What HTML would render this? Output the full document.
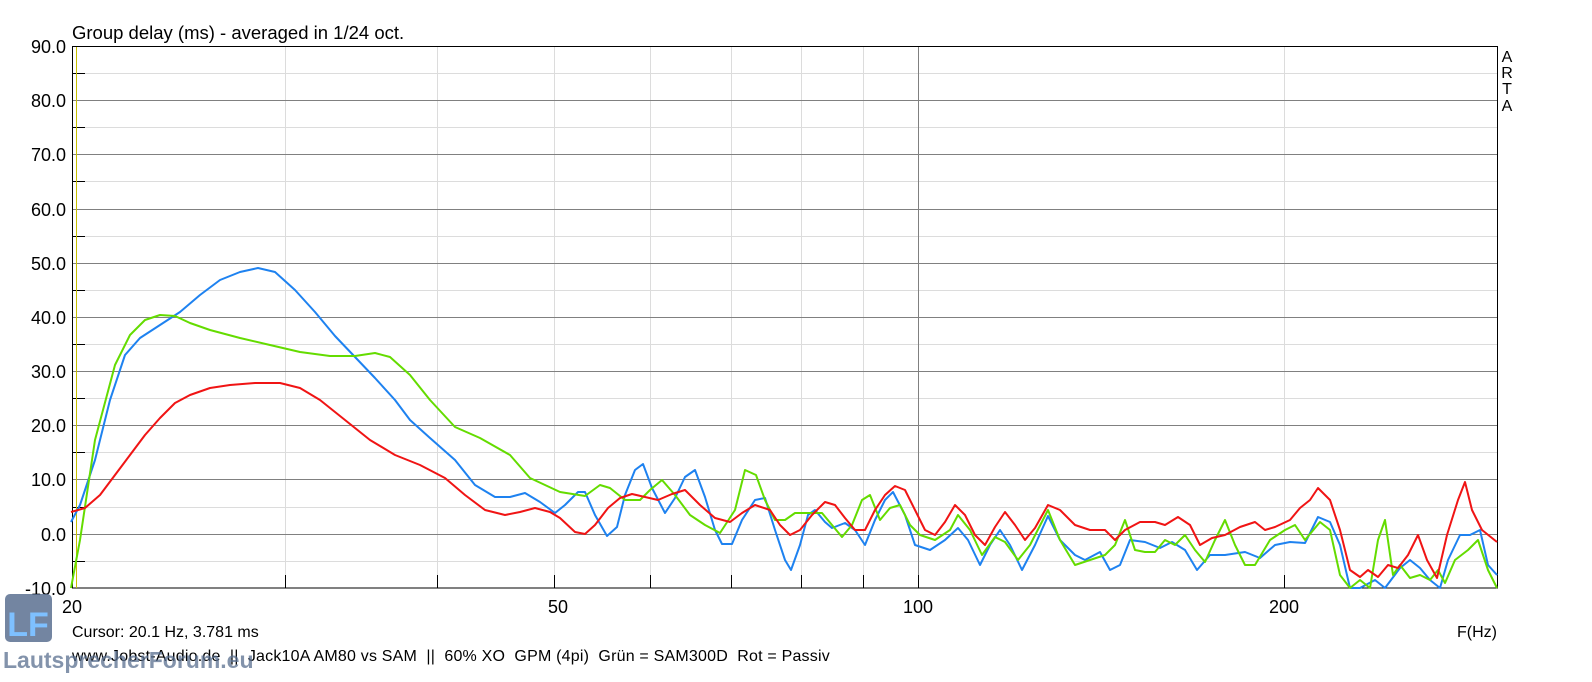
<!DOCTYPE html>
<html><head><meta charset="utf-8"><style>
body{margin:0;background:#fff;width:1592px;height:677px;overflow:hidden;font-family:"Liberation Sans",Arial,sans-serif;}
text{white-space:pre;}
</style></head><body>
<svg width="1592" height="677" xmlns="http://www.w3.org/2000/svg" font-family="Liberation Sans, Arial, sans-serif">
<rect width="1592" height="677" fill="#fff"/>
<g stroke="#dcdcdc" stroke-width="1">
<line x1="72" x2="1497" y1="73.5" y2="73.5"/><line x1="72" x2="1497" y1="127.5" y2="127.5"/><line x1="72" x2="1497" y1="181.5" y2="181.5"/><line x1="72" x2="1497" y1="236.5" y2="236.5"/><line x1="72" x2="1497" y1="290.5" y2="290.5"/><line x1="72" x2="1497" y1="344.5" y2="344.5"/><line x1="72" x2="1497" y1="398.5" y2="398.5"/><line x1="72" x2="1497" y1="452.5" y2="452.5"/><line x1="72" x2="1497" y1="507.5" y2="507.5"/><line x1="72" x2="1497" y1="561.5" y2="561.5"/>
<line x1="285.5" x2="285.5" y1="46" y2="588"/><line x1="437.5" x2="437.5" y1="46" y2="588"/><line x1="554.5" x2="554.5" y1="46" y2="588"/><line x1="650.5" x2="650.5" y1="46" y2="588"/><line x1="731.5" x2="731.5" y1="46" y2="588"/><line x1="801.5" x2="801.5" y1="46" y2="588"/><line x1="863.5" x2="863.5" y1="46" y2="588"/><line x1="1284.5" x2="1284.5" y1="46" y2="588"/>
</g>
<g stroke="#808080" stroke-width="1">
<line x1="72" x2="1497" y1="100.5" y2="100.5"/><line x1="72" x2="1497" y1="154.5" y2="154.5"/><line x1="72" x2="1497" y1="209.5" y2="209.5"/><line x1="72" x2="1497" y1="263.5" y2="263.5"/><line x1="72" x2="1497" y1="317.5" y2="317.5"/><line x1="72" x2="1497" y1="371.5" y2="371.5"/><line x1="72" x2="1497" y1="425.5" y2="425.5"/><line x1="72" x2="1497" y1="479.5" y2="479.5"/><line x1="72" x2="1497" y1="534.5" y2="534.5"/>
<line x1="918.5" x2="918.5" y1="46" y2="588"/>
</g>
<g stroke="#000" stroke-width="1">
<line x1="72" x2="85" y1="73.5" y2="73.5"/><line x1="72" x2="85" y1="127.5" y2="127.5"/><line x1="72" x2="85" y1="181.5" y2="181.5"/><line x1="72" x2="85" y1="236.5" y2="236.5"/><line x1="72" x2="85" y1="290.5" y2="290.5"/><line x1="72" x2="85" y1="344.5" y2="344.5"/><line x1="72" x2="85" y1="398.5" y2="398.5"/><line x1="72" x2="85" y1="452.5" y2="452.5"/><line x1="72" x2="85" y1="507.5" y2="507.5"/><line x1="72" x2="85" y1="561.5" y2="561.5"/>
<line x1="285.5" x2="285.5" y1="575" y2="588"/><line x1="437.5" x2="437.5" y1="575" y2="588"/><line x1="554.5" x2="554.5" y1="575" y2="588"/><line x1="650.5" x2="650.5" y1="575" y2="588"/><line x1="731.5" x2="731.5" y1="575" y2="588"/><line x1="801.5" x2="801.5" y1="575" y2="588"/><line x1="863.5" x2="863.5" y1="575" y2="588"/><line x1="918.5" x2="918.5" y1="575" y2="588"/><line x1="1284.5" x2="1284.5" y1="575" y2="588"/>
</g>
<rect x="72.5" y="46.5" width="1425" height="541.5" fill="none" stroke="#000"/>
<line x1="76.5" x2="76.5" y1="47" y2="588" stroke="#c8c000"/>
<g fill="none" stroke-width="2" stroke-linejoin="round">
<polyline stroke="#1e82f0" points="71,522 80,505 95,460 110,400 125,355 140,338 160,325 180,312 200,295 220,280 240,272 258,268 275,272 295,290 315,312 335,336 355,357 375,378 395,400 410,420 430,438 455,460 475,485 495,497 510,497 525,493 540,502 555,513 565,505 578,492 585,492 595,515 607,536 617,527 625,495 635,470 643,464 652,488 665,513 675,498 685,477 695,470 705,497 715,530 722,544 732,544 742,520 755,500 765,498 775,530 785,560 791,570 800,545 808,515 815,510 825,522 832,528 845,523 855,530 865,545 875,520 885,500 893,492 905,515 915,545 930,550 945,540 958,528 968,540 980,565 990,545 1000,530 1010,545 1022,570 1035,545 1048,516 1060,540 1075,555 1085,560 1100,552 1110,570 1120,565 1130,540 1145,542 1160,548 1172,542 1185,550 1197,570 1210,555 1225,555 1245,552 1260,558 1275,545 1290,542 1305,543 1318,517 1330,522 1340,545 1350,588 1360,588 1375,580 1385,588 1400,568 1410,560 1420,568 1430,580 1440,588 1448,560 1460,535 1470,535 1480,530 1488,565 1497,575"/>
<polyline stroke="#64dc00" points="71,588 80,540 95,440 115,365 130,335 145,320 160,315 175,316 190,323 210,330 240,338 270,345 300,352 330,356 355,356 375,353 390,357 410,375 430,400 455,427 480,438 510,455 530,478 560,492 585,496 600,485 610,488 625,500 640,500 650,490 662,480 675,495 690,515 705,525 720,533 735,510 745,470 756,475 765,500 775,520 785,520 795,513 808,513 822,513 832,525 842,537 852,525 862,500 870,495 880,520 890,508 900,505 910,525 920,535 935,540 950,530 958,515 970,530 982,555 995,537 1005,542 1018,560 1030,545 1048,510 1060,540 1075,565 1090,560 1105,555 1115,545 1125,520 1135,550 1145,552 1155,552 1165,540 1175,545 1185,535 1195,550 1205,562 1215,540 1225,520 1235,545 1245,565 1255,565 1270,540 1285,530 1295,525 1305,540 1320,522 1330,530 1340,575 1350,588 1360,580 1370,588 1378,540 1385,520 1393,575 1400,565 1410,578 1420,575 1430,580 1438,570 1445,583 1455,560 1468,550 1478,540 1488,570 1497,588"/>
<polyline stroke="#f01414" points="71,512 85,508 100,495 115,475 130,455 145,435 160,418 175,403 190,395 210,388 230,385 255,383 280,383 300,388 320,400 345,420 370,440 395,455 420,465 445,478 465,495 485,510 505,515 520,512 535,508 550,512 560,518 575,532 585,534 595,525 608,508 620,498 632,494 645,497 658,500 672,494 685,490 700,505 715,518 730,522 742,513 755,505 770,510 780,525 790,535 800,530 812,515 825,502 835,505 845,518 855,530 865,530 875,510 885,495 895,486 905,490 915,510 925,530 935,535 945,522 955,505 965,515 975,535 985,545 995,527 1005,512 1015,525 1025,540 1035,528 1048,505 1060,510 1075,525 1090,530 1105,530 1115,540 1125,530 1140,522 1155,522 1165,525 1178,517 1190,525 1200,545 1212,538 1225,535 1240,527 1255,522 1265,530 1275,527 1290,520 1300,508 1310,500 1318,488 1330,500 1340,530 1350,570 1360,577 1368,570 1378,577 1388,565 1398,568 1408,555 1418,535 1427,560 1437,578 1447,535 1458,500 1465,482 1472,510 1482,530 1497,542"/>
</g>
<g font-size="18" fill="#000">
<text x="72" y="39" font-size="18.5">Group delay (ms) - averaged in 1/24 oct.</text>
<g text-anchor="end">
<text x="66" y="53">90.0</text><text x="66" y="107">80.0</text><text x="66" y="161">70.0</text><text x="66" y="216">60.0</text><text x="66" y="270">50.0</text><text x="66" y="324">40.0</text><text x="66" y="378">30.0</text><text x="66" y="432">20.0</text><text x="66" y="486">10.0</text><text x="66" y="541">0.0</text><text x="66" y="595">-10.0</text>
</g>
<g text-anchor="middle">
<text x="72" y="613">20</text><text x="558" y="613">50</text><text x="918" y="613">100</text><text x="1284" y="613">200</text>
<text x="1507" y="62" font-size="16">A</text><text x="1507" y="78" font-size="16">R</text><text x="1507" y="94" font-size="16">T</text><text x="1507" y="111" font-size="16">A</text>
</g>
<text x="1457" y="637" font-size="16">F(Hz)</text>
<text x="72" y="637" font-size="16">Cursor: 20.1 Hz, 3.781 ms</text>
<text x="72" y="661" font-size="16" letter-spacing="0.2">www.Jobst-Audio.de  ||  Jack10A AM80 vs SAM  ||  60% XO  GPM (4pi)  Grün = SAM300D  Rot = Passiv</text>
</g>
<rect x="5" y="594" width="47" height="48" rx="5" fill="#5a7090" opacity="0.85"/>
<text x="28" y="636" font-size="34" font-weight="bold" fill="#7ec0ff" text-anchor="middle">LF</text>
<text x="3" y="668" font-size="23" font-weight="bold" fill="#5a7090" opacity="0.75">LautsprecherForum.eu</text>
</svg>
</body></html>
